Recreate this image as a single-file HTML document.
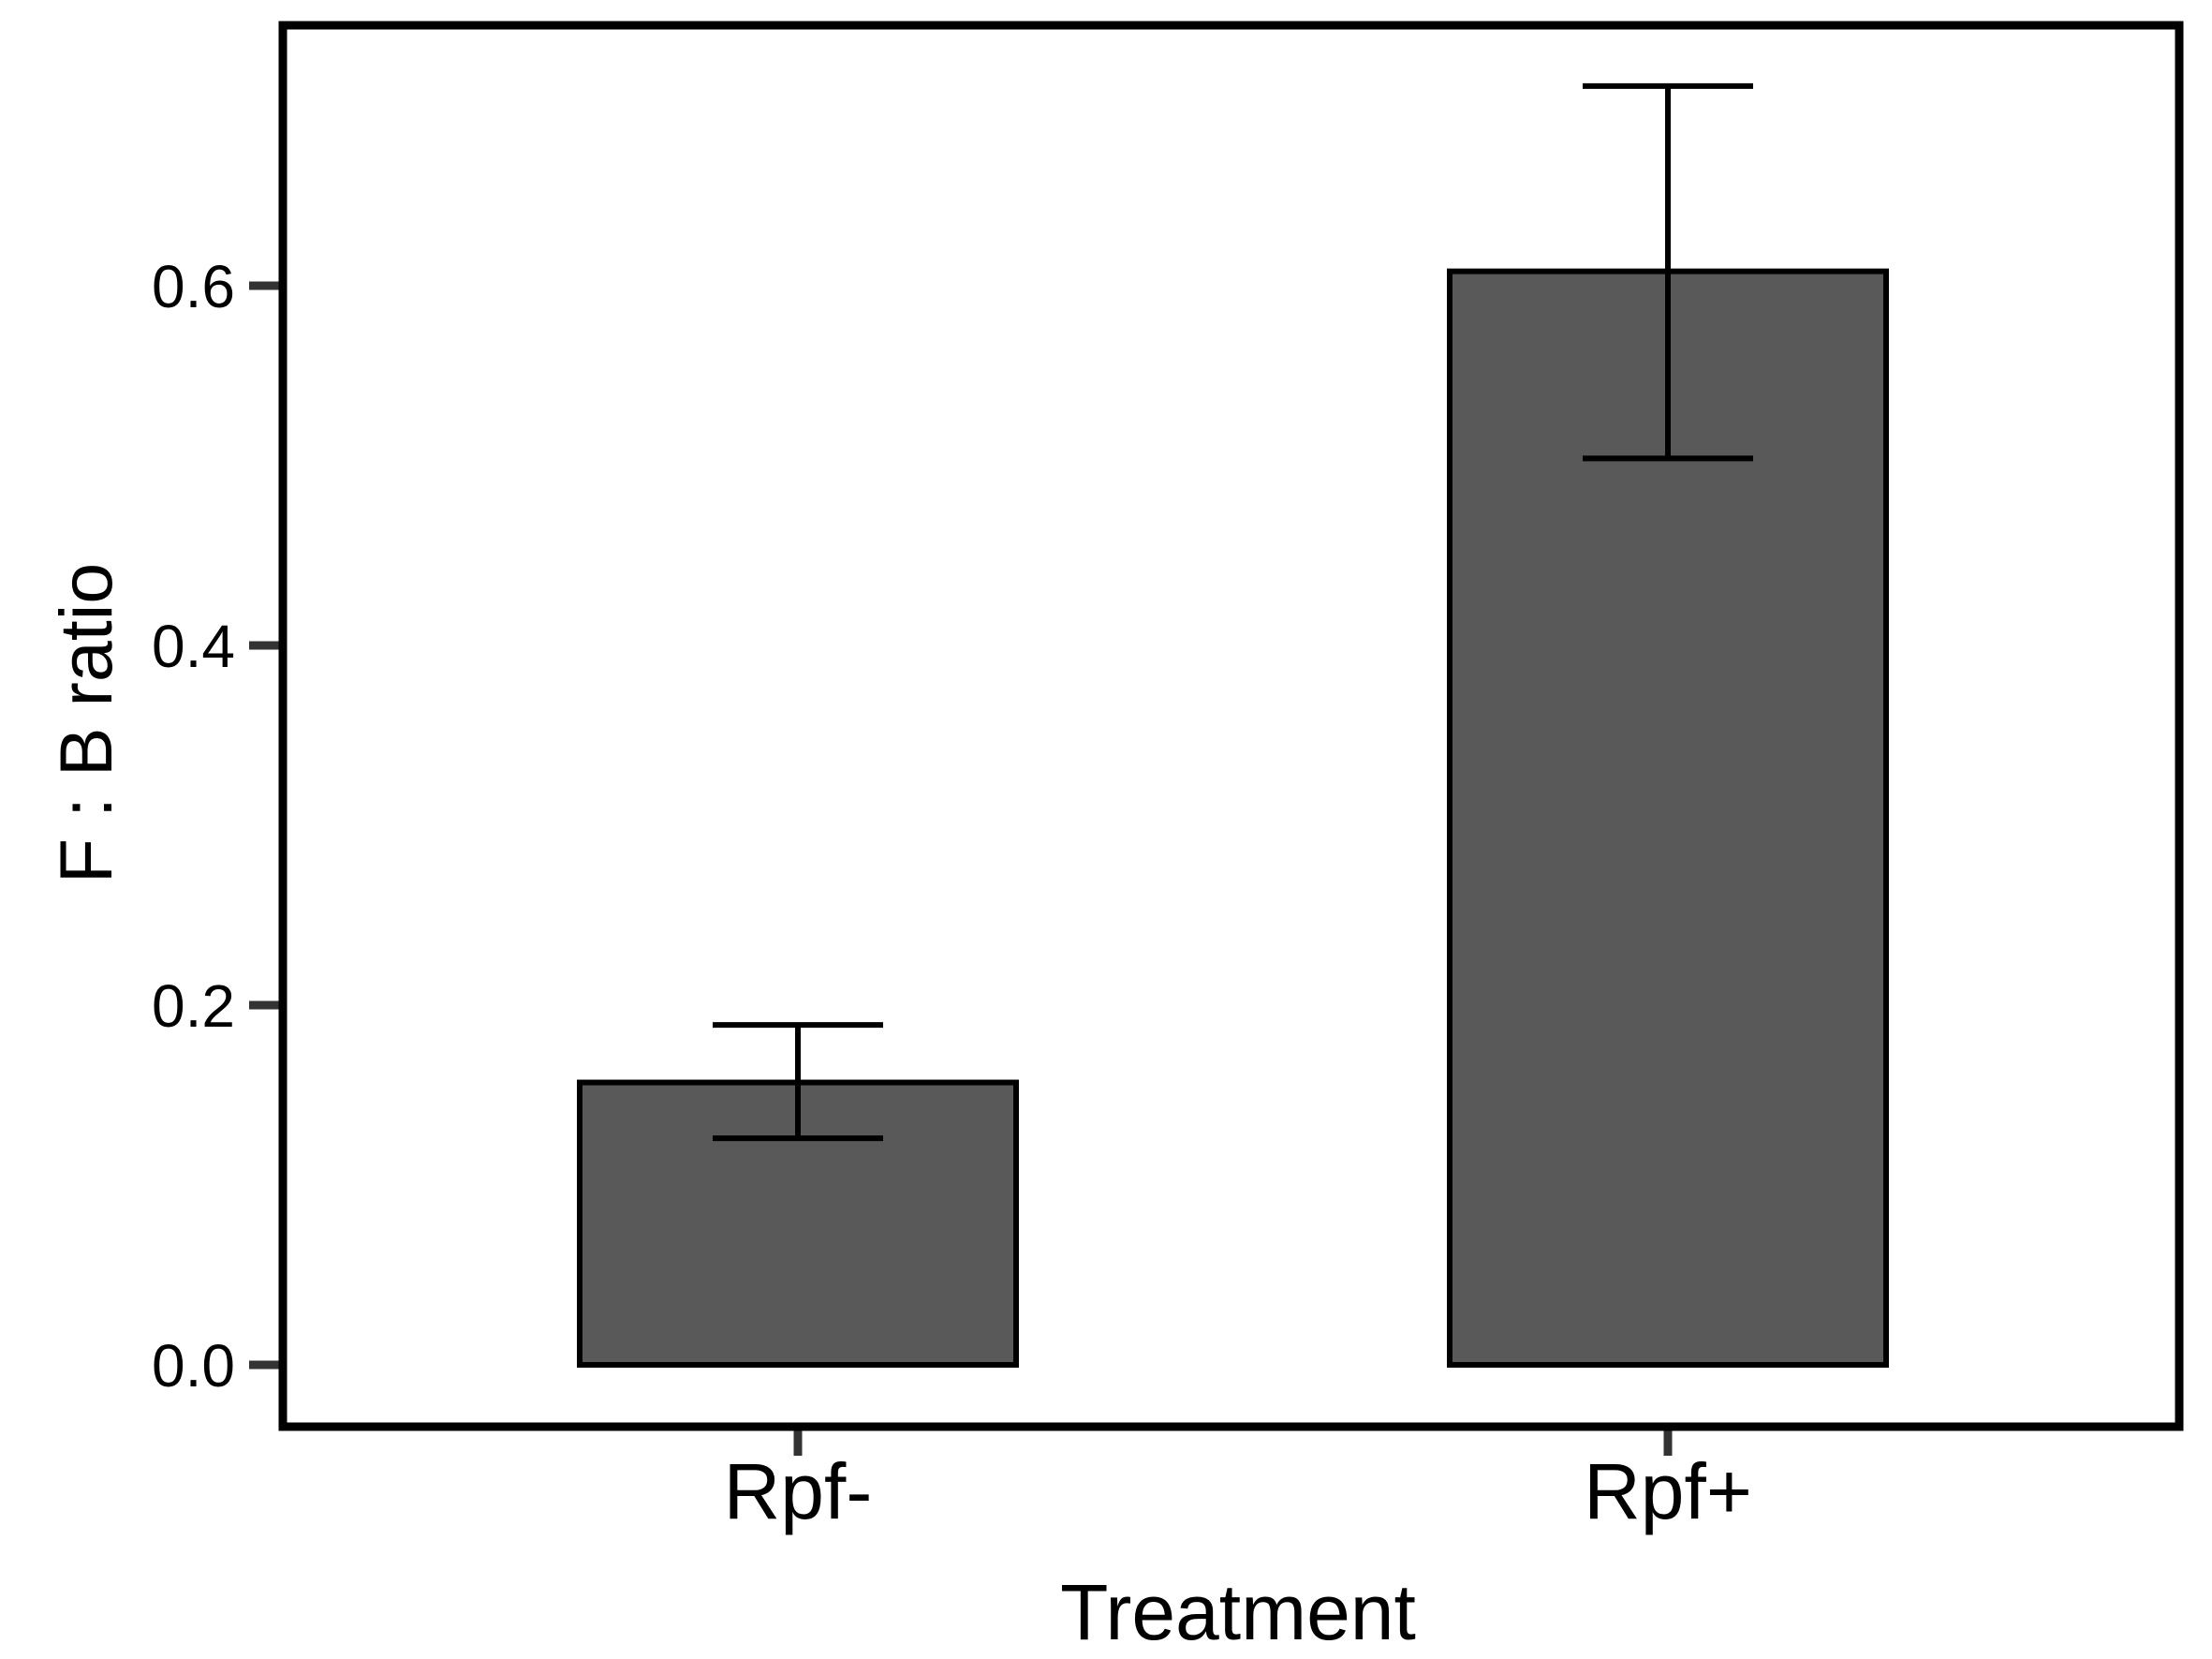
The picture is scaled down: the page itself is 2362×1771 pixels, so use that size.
<!DOCTYPE html>
<html><head><meta charset="utf-8"><style>
html,body{margin:0;padding:0;background:#fff;}
svg{display:block;font-family:"Liberation Sans",Arial,sans-serif;}
</style></head><body>
<svg id="chart" width="2362" height="1771" viewBox="0 0 2362 1771" xmlns="http://www.w3.org/2000/svg">
<rect x="0" y="0" width="2362" height="1771" fill="#fff"/>
<g id="bars"></g>
<g id="yaxis"></g>
<g id="xaxis"></g>
<rect x="302" y="27" width="2025" height="1496" fill="none" stroke="#000" stroke-width="9"/>
<text x="98" y="772" font-size="79" text-anchor="middle" transform="rotate(-90 98 772)" dominant-baseline="middle">F : B ratio</text>
<text x="1322" y="1750" font-size="84" text-anchor="middle">Treatment</text>
</svg>
<script>
const categories = ["Rpf-", "Rpf+"];
const values = [0.157, 0.608];
const errLow = [0.126, 0.504];
const errHigh = [0.189, 0.711];
const yTicks = [0.0, 0.2, 0.4, 0.6];
const yTickLabels = ["0.0", "0.2", "0.4", "0.6"];

const NS = "http://www.w3.org/2000/svg";
const y0px = 1457, pxPerUnit = 1920;
function yScale(v){ return y0px - v * pxPerUnit; }
const bandStep = 929, firstCenter = 852;
function xScale(i){ return firstCenter + i * bandStep; }
const barW = 466, capW = 182;
function mk(tag, attrs, parent){
  const el = document.createElementNS(NS, tag);
  for (const k in attrs) el.setAttribute(k, attrs[k]);
  parent.appendChild(el);
  return el;
}
const gb = document.getElementById('bars');
categories.forEach((c, i) => {
  const cx = xScale(i);
  const r = mk('rect', {x: cx - barW/2, y: yScale(values[i]), width: barW, height: yScale(0) - yScale(values[i]), fill: '#595959', stroke: '#000', 'stroke-width': 6}, gb);
  
  
  const v = mk('line', {x1: cx, x2: cx, y1: yScale(errHigh[i]), y2: yScale(errLow[i]), stroke: '#000', 'stroke-width': 6}, gb);
  
  
  const t = mk('line', {x1: cx - capW/2, x2: cx + capW/2, y1: yScale(errHigh[i]), y2: yScale(errHigh[i]), stroke: '#000', 'stroke-width': 6}, gb);
  
  
  const b = mk('line', {x1: cx - capW/2, x2: cx + capW/2, y1: yScale(errLow[i]), y2: yScale(errLow[i]), stroke: '#000', 'stroke-width': 6}, gb);
  
  
});
const gy = document.getElementById('yaxis');
yTicks.forEach((v, i) => {
  const tk = mk('line', {x1: 266, x2: 300, y1: yScale(v), y2: yScale(v), stroke: '#333', 'stroke-width': 9}, gy);
  
  
  const tl = mk('text', {x: 251, y: yScale(v) + 23, 'font-size': 64, 'text-anchor': 'end'}, gy);
  tl.textContent = yTickLabels[i];
  
  
});
const gx = document.getElementById('xaxis');
categories.forEach((c, i) => {
  const tk = mk('line', {x1: xScale(i), x2: xScale(i), y1: 1526, y2: 1554, stroke: '#333', 'stroke-width': 9}, gx);
  
  
  const tl = mk('text', {x: xScale(i), y: 1621, 'font-size': 84, 'text-anchor': 'middle'}, gx);
  tl.textContent = c;
  
  
});
</script>
</body></html>
